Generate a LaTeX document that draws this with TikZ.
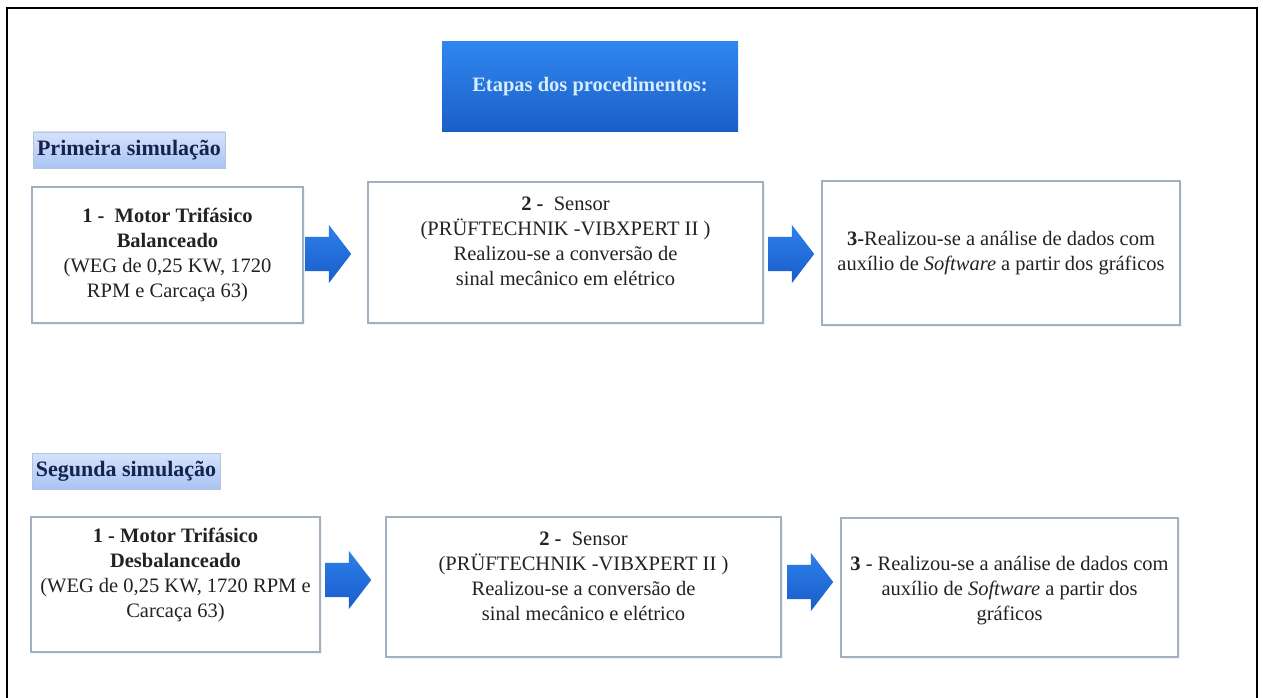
\documentclass[tikz,border=0pt]{standalone}
\usepackage{fontspec}
\setmainfont{Liberation Serif}
\usetikzlibrary{shapes.arrows,shadows}
\definecolor{boxedge}{RGB}{160,176,192}
\definecolor{txt}{RGB}{34,34,34}
\definecolor{arrtop}{RGB}{44,128,234}
\definecolor{arrbot}{RGB}{26,92,204}
\definecolor{headtop}{RGB}{48,134,238}
\definecolor{headbot}{RGB}{28,94,200}
\definecolor{headtxt}{RGB}{214,236,255}
\definecolor{labtop}{RGB}{214,226,250}
\definecolor{labbot}{RGB}{170,196,244}
\definecolor{labedge}{RGB}{180,196,220}
\definecolor{labtxt}{RGB}{22,35,80}
\begin{document}
\begin{tikzpicture}[x=1pt,y=-1pt,
  stepbox/.style={rectangle, draw=boxedge, line width=1.1pt, fill=white, inner sep=0pt,
    drop shadow={opacity=0.10, shadow xshift=1.5pt, shadow yshift=-1.5pt}},
  boxtext/.style={align=center, text=txt, inner sep=0pt, font=\fontsize{20.5}{25}\selectfont},
  flowarrow/.style={single arrow, draw=none, top color=arrtop, bottom color=arrbot,
    minimum height=46pt, minimum width=58pt, single arrow head extend=12pt,
    single arrow tip angle=105, inner xsep=0pt, inner ysep=17pt, anchor=tail},
  simlabel/.style={rectangle, draw=labedge, line width=0.6pt, top color=labtop, bottom color=labbot,
    inner sep=0pt, text=labtxt, font=\bfseries\fontsize{22}{26}\selectfont},
  headbox/.style={rectangle, draw=none, top color=headtop, bottom color=headbot, inner sep=0pt,
    text=headtxt, font=\bfseries\fontsize{20.5}{24}\selectfont},
  frameline/.style={draw=black, line width=1.4pt}
]
\useasboundingbox (0,0) rectangle (1263,698);
\fill[white] (0,0) rectangle (1263,698);

% outer frame (bottom edge lies outside the picture)
\coordinate (fbl) at (7,698);
\coordinate (ftl) at (7,8);
\coordinate (ftr) at (1257,8);
\coordinate (fbr) at (1257,698);
\draw[frameline] (fbl) -- (ftl) -- (ftr) -- (fbr);

% header
\node[headbox, minimum width=296pt, minimum height=90pt] (head) at (590,87) {Etapas dos procedimentos:};

% labels
\node[simlabel, minimum width=192pt, minimum height=36pt] (lab1) at (129,150) {Primeira simulação};
\node[simlabel, minimum width=188pt, minimum height=36pt] (lab2) at (126,471) {Segunda simulação};

% row 1 boxes
\node[stepbox, minimum width=271pt, minimum height=136pt] (b11) at (167.5,255) {};
\node[stepbox, minimum width=395pt, minimum height=141pt] (b12) at (565.5,252.5) {};
\node[stepbox, minimum width=358pt, minimum height=144pt] (b13) at (1001,253) {};
\node[boxtext] (t11) at (167.5,255) {\textbf{1 -\ \ Motor Trifásico}\\\textbf{Balanceado}\\(WEG de 0,25 KW, 1720\\RPM e Carcaça 63)};
\node[boxtext] (t12) at (565.5,241) {\textbf{2 -}\ \ Sensor\\(PRÜFTECHNIK -VIBXPERT II )\\Realizou-se a conversão de\\sinal mecânico em elétrico};
\node[boxtext] (t13) at (1001,253.5) {\textbf{3-}Realizou-se a análise de dados com\\auxílio de \textit{Software} a partir dos gráficos};

% row 1 arrows
\node[flowarrow] (a11) at (305,254) {};
\node[flowarrow] (a12) at (768,254) {};

% row 2 boxes
\node[stepbox, minimum width=289pt, minimum height=135pt] (b21) at (175.5,584.5) {};
\node[stepbox, minimum width=395pt, minimum height=140pt] (b22) at (583.5,587) {};
\node[stepbox, minimum width=337pt, minimum height=139pt] (b23) at (1009.5,587.5) {};
\node[boxtext] (t21) at (175.5,575) {\textbf{1 - Motor Trifásico}\\\textbf{Desbalanceado}\\(WEG de 0,25 KW, 1720 RPM e\\Carcaça 63)};
\node[boxtext] (t22) at (583.5,576) {\textbf{2 -}\ \ Sensor\\(PRÜFTECHNIK -VIBXPERT II )\\Realizou-se a conversão de\\sinal mecânico e elétrico};
\node[boxtext] (t23) at (1009.5,591) {\textbf{3} - Realizou-se a análise de dados com\\auxílio de \textit{Software} a partir dos\\gráficos};

% row 2 arrows
\node[flowarrow] (a21) at (325,580) {};
\node[flowarrow] (a22) at (787,582) {};
\end{tikzpicture}
\end{document}
